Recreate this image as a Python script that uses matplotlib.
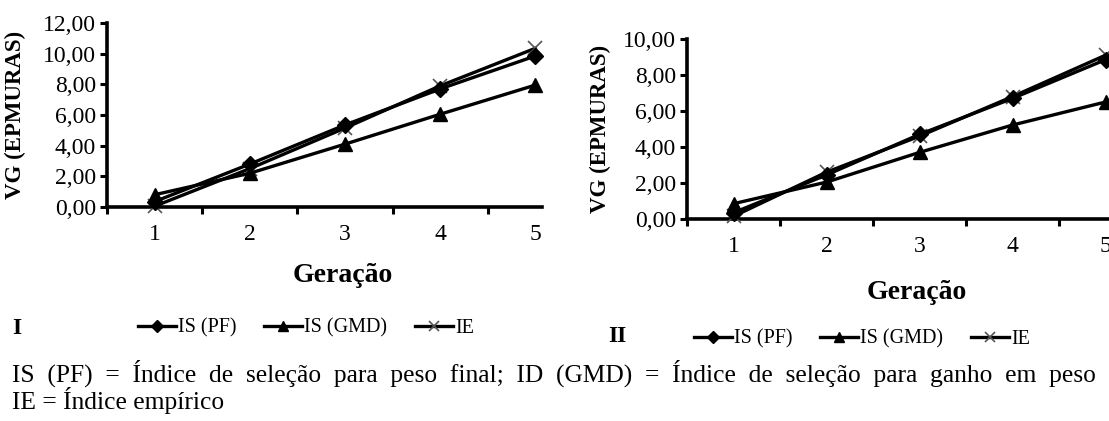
import numpy as np
import matplotlib
matplotlib.use("Agg")
import matplotlib.pyplot as plt
from matplotlib.ticker import FuncFormatter

plt.rcParams['font.family'] = ['Liberation Serif', 'DejaVu Serif']

geracao = [1, 2, 3, 4, 5]

# grafico I
is_pf_1 = [0.35, 2.80, 5.35, 7.70, 9.85]
is_gmd_1 = [0.80, 2.20, 4.10, 6.05, 7.95]
ie_1 = [0.05, 2.50, 5.15, 7.90, 10.35]

# grafico II
is_pf_2 = [0.35, 2.45, 4.70, 6.70, 8.85]
is_gmd_2 = [0.85, 2.05, 3.70, 5.22, 6.50]
ie_2 = [0.15, 2.60, 4.60, 6.80, 9.10]

nomes = ["IS (PF)", "IS (GMD)", "IE"]

W, H = 1109, 421
fig = plt.figure(figsize=(W / 100, H / 100), dpi=100)


def desenha(ax, pf, gmd, ie, ymax, xmax, xlab_pos, ylab_x):
    ax.plot(geracao, ie, color='black', lw=2.4, marker='x', ms=10, mew=1.2,
            mec='#555555', label=nomes[2], clip_on=False, zorder=3)
    ax.plot(geracao, pf, color='black', lw=2.4, marker='D', ms=8,
            label=nomes[0], clip_on=False, zorder=4)
    ax.plot(geracao, gmd, color='black', lw=2.4, marker='^', ms=10,
            label=nomes[1], clip_on=False, zorder=4)
    ax.set_xlim(0.5, xmax)
    ax.set_ylim(0, ymax)
    ax.set_yticks(np.arange(0, ymax + 0.01, 2))
    ax.yaxis.set_major_formatter(FuncFormatter(lambda v, p: f"{v:.2f}".replace('.', ',')))
    ax.set_xticks(geracao)
    ax.set_xticks([0.5, 1.5, 2.5, 3.5, 4.5], minor=True)
    ax.tick_params(axis='x', which='major', length=0, pad=12, labelsize=17)
    ax.tick_params(axis='x', which='minor', length=5, width=2.2, direction='out')
    ax.tick_params(axis='y', length=5, width=2.2, direction='out', pad=3, labelsize=17)
    for s in ['top', 'right']:
        ax.spines[s].set_visible(False)
    for s in ['left', 'bottom']:
        ax.spines[s].set_linewidth(2.6)
    ax.set_ylabel("VG (EPMURAS)", fontsize=16.5, fontweight='bold', va='center')
    ax.yaxis.set_label_coords(ylab_x, 0.5)
    ax.set_xlabel("Geração", fontsize=20, fontweight='bold', va='center')
    ax.xaxis.set_label_coords(*xlab_pos)


ax1 = fig.add_axes([107 / W, 1 - 207 / H, 435 / W, 184 / H])
desenha(ax1, is_pf_1, is_gmd_1, ie_1, 12, 5.07, (0.543, -0.37), -0.211)

ax2 = fig.add_axes([687 / W, 1 - 219 / H, 430 / W, 180 / H])
desenha(ax2, is_pf_2, is_gmd_2, ie_2, 10, 0.5 + 430 / 93, (0.535, -0.41), -0.202)

for ax, xy in [(ax1, (306 / W, 1 - 328 / H)), (ax2, (862 / W, 1 - 339 / H))]:
    h, l = ax.get_legend_handles_labels()
    ordem = [1, 2, 0]
    fig.legend([h[i] for i in ordem], [l[i] for i in ordem], loc='center',
               bbox_to_anchor=xy, ncol=3, frameon=False, fontsize=14.5,
               handlelength=1.9, handletextpad=0.1, columnspacing=1.35,
               markerscale=0.75)

fig.text(12 / W, 1 - 328 / H, "I", fontsize=17, fontweight='bold', va='center')
fig.text(608 / W, 1 - 336 / H, "II", fontsize=17, fontweight='bold', va='center')

fig.text(12 / W, 1 - 373 / H,
         "IS  (PF)  =  Índice  de  seleção  para  peso  final;  ID  (GMD)  =  Índice  de  seleção  para  ganho  em  peso",
         fontsize=18.4, va='center')
fig.text(12 / W, 1 - 400 / H, "IE = Índice empírico", fontsize=18.4, va='center')

fig.savefig("out.png", dpi=100)
